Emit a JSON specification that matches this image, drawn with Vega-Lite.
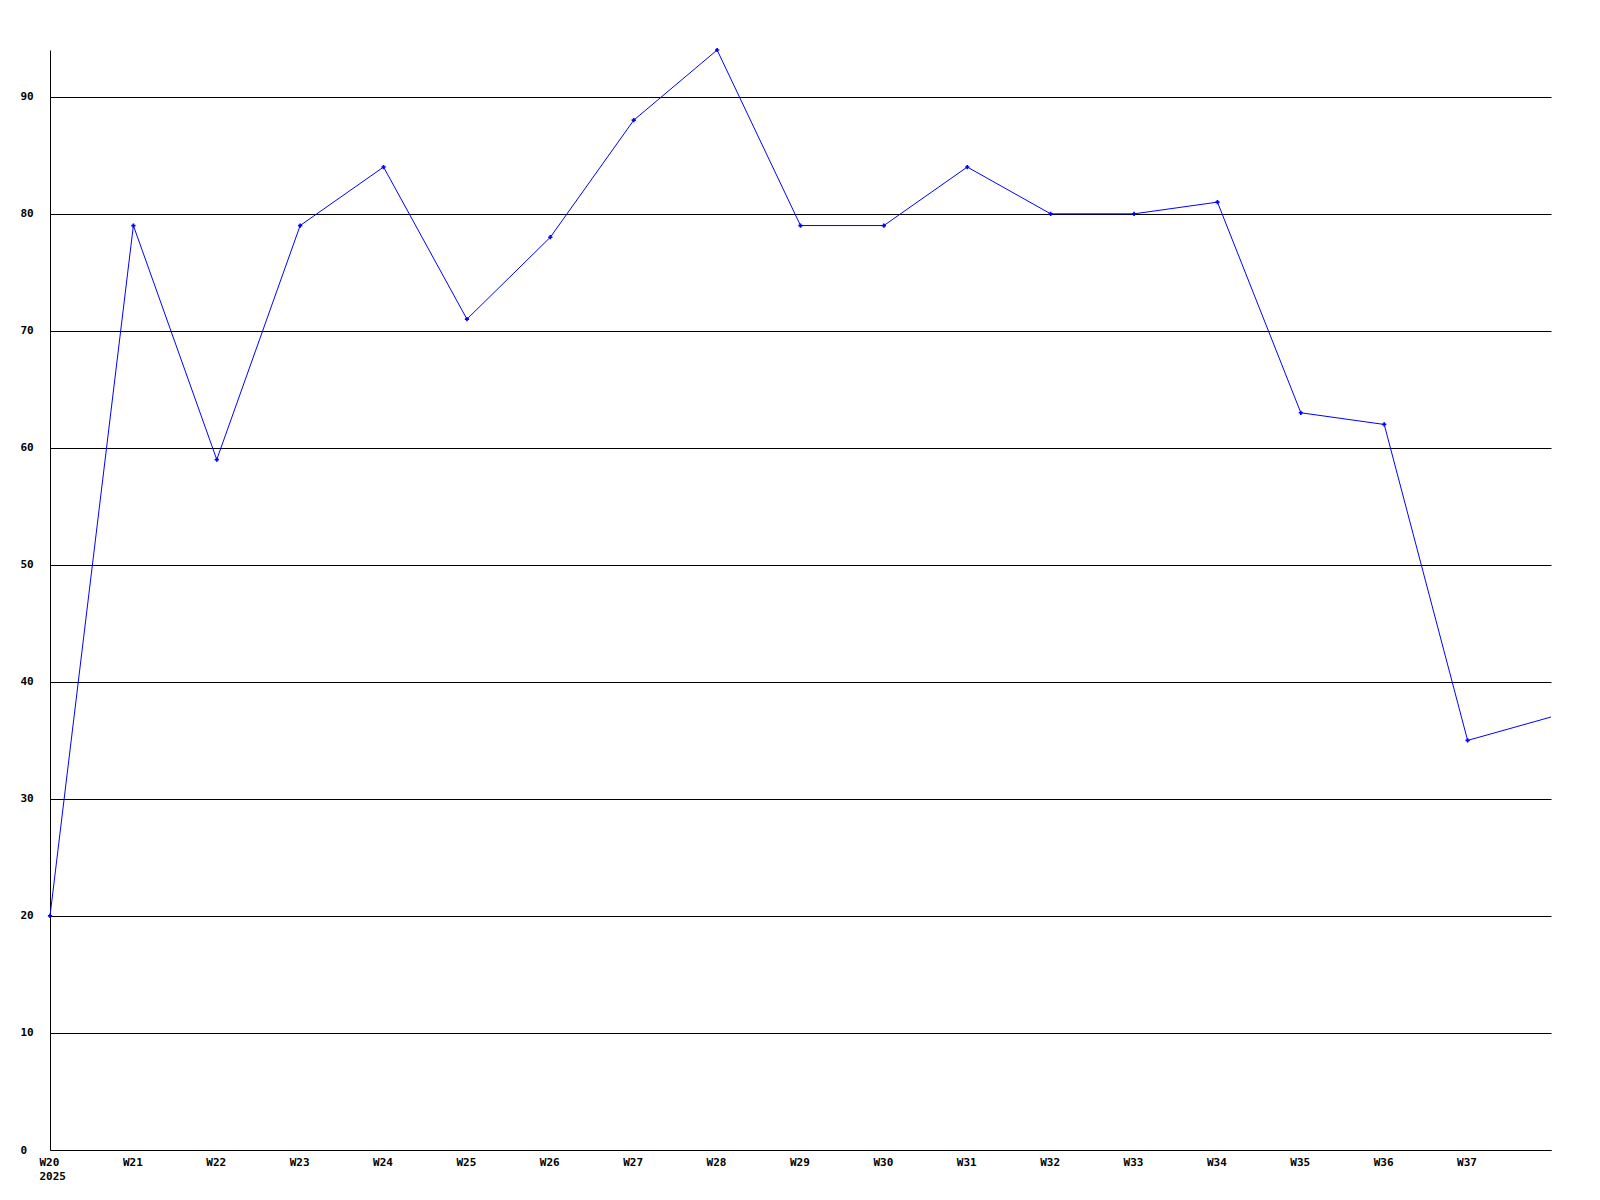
{
  "$schema": "https://vega.github.io/schema/vega-lite/v6.json",
  "autosize": {"type": "none"},
  "padding": {"left": 50, "top": 50, "right": 49, "bottom": 50},
  "width": 1501,
  "height": 1100,
  "background": "white",
  "config": {"view": {"stroke": null}},
  "data": {"values": [
    {"week": 20, "value": 20},
    {"week": 21, "value": 79},
    {"week": 22, "value": 59},
    {"week": 23, "value": 79},
    {"week": 24, "value": 84},
    {"week": 25, "value": 71},
    {"week": 26, "value": 78},
    {"week": 27, "value": 88},
    {"week": 28, "value": 94},
    {"week": 29, "value": 79},
    {"week": 30, "value": 79},
    {"week": 31, "value": 84},
    {"week": 32, "value": 80},
    {"week": 33, "value": 80},
    {"week": 34, "value": 81},
    {"week": 35, "value": 63},
    {"week": 36, "value": 62},
    {"week": 37, "value": 35},
    {"week": 38, "value": 37}
  ]},
  "encoding": {
    "x": {
      "field": "week", "type": "quantitative",
      "scale": {"domain": [20, 38], "nice": false, "zero": false},
      "axis": {
        "title": null,
        "values": [20,21,22,23,24,25,26,27,28,29,30,31,32,33,34,35,36,37],
        "labelExpr": "datum.value == 20 ? ['W20', '2025'] : 'W' + datum.value",
        "grid": false, "ticks": false, "tickSize": 0,
        "domainColor": "black", "domainWidth": 1,
        "labelAlign": "left", "labelBaseline": "top", "labelOffset": -11,
        "labelPadding": 6, "labelLineHeight": 14,
        "labelFont": "DejaVu Sans Mono", "labelFontWeight": "bold", "labelFontSize": 11,
        "labelColor": "black", "labelOverlap": false, "labelFlush": false
      }
    },
    "y": {
      "field": "value", "type": "quantitative",
      "scale": {"domain": [0, 94], "nice": false},
      "axis": {
        "title": null,
        "values": [0,10,20,30,40,50,60,70,80,90],
        "grid": true, "gridColor": "black", "gridOpacity": 1, "gridWidth": 1,
        "ticks": false, "tickSize": 0,
        "domainColor": "black", "domainWidth": 1,
        "labelAlign": "left", "labelBaseline": "middle", "labelPadding": 30,
        "labelFont": "DejaVu Sans Mono", "labelFontWeight": "bold", "labelFontSize": 11,
        "labelColor": "black", "labelOverlap": false, "labelFlush": false
      }
    }
  },
  "layer": [
    {"mark": {"type": "line", "color": "#0000ff", "strokeWidth": 1}},
    {
      "transform": [{"filter": "datum.week < 38"}],
      "mark": {"type": "point", "shape": "cross", "filled": true, "size": 18, "color": "#0000ff", "opacity": 1}
    }
  ]
}
